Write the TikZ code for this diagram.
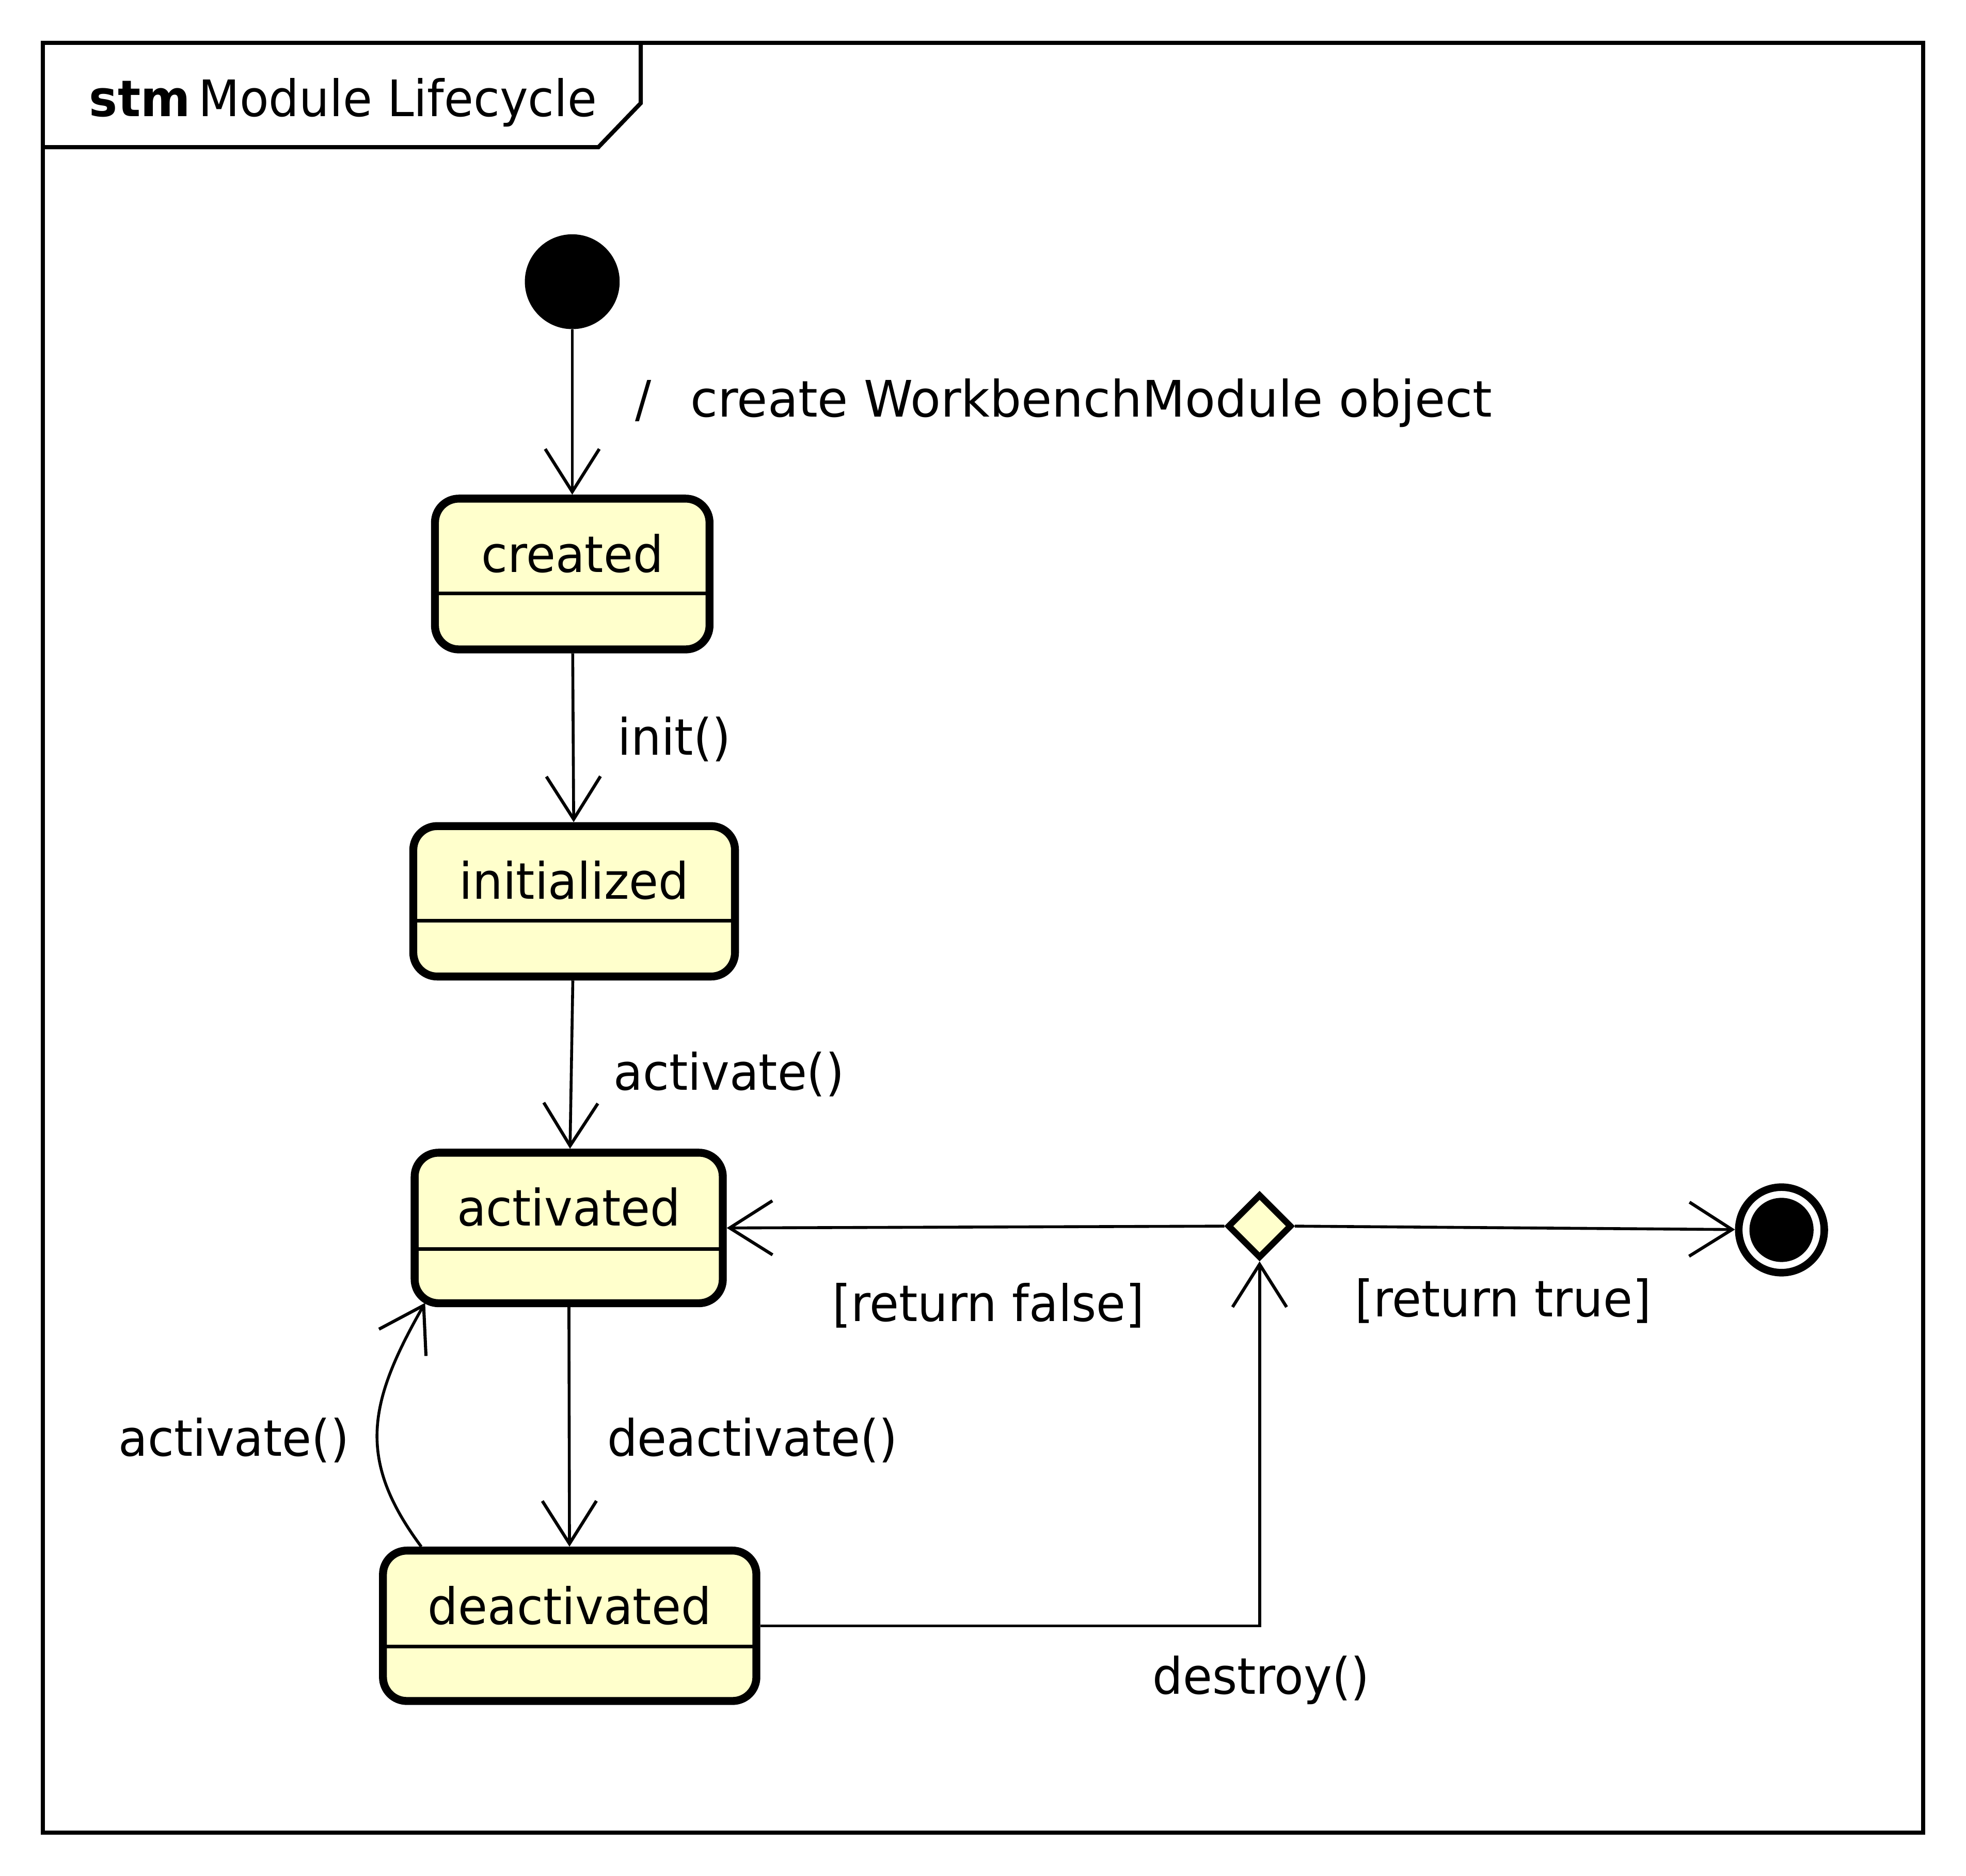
\documentclass[tikz,border=0pt]{standalone}
\usepackage{fontspec}
\setmainfont{DejaVu Sans}[FakeStretch=0.95]
\usetikzlibrary{arrows.meta,shapes.geometric}
\definecolor{stfill}{HTML}{FFFFCC}
\begin{document}
\begin{tikzpicture}[x=1pt,y=-1pt,
  every node/.style={inner sep=0pt},
  lbl/.style={anchor=base west, font=\fontsize{40pt}{48pt}\selectfont},
  stname/.style={anchor=base, font=\fontsize{40pt}{48pt}\selectfont},
  stbox/.style={draw, line width=6.3pt, fill=stfill, rounded corners=19pt, inner sep=0pt},
  conn/.style={line width=2.3pt, -{Straight Barb[length=34pt,width=43pt,line width=2.5pt]}},
  sepline/.style={line width=3pt},
  framel/.style={line width=3.3pt},
]
\useasboundingbox (0,0) rectangle (1563.2,1491.4);

% frame
\draw[framel] (34,34) rectangle (1529.2,1457.3);
\draw[framel] (34,117) -- (475.8,117) -- (509.5,82) -- (509.5,34);
\node[lbl] (stm) at (70.8,92.4) {\bfseries stm};
\node[lbl] (title) at (157.6,92.4) {Module Lifecycle};

% initial
\node[circle, fill=black, minimum size=75.4pt] (init) at (455,224) {};

% states
\node[stbox, minimum width=218.3pt, minimum height=119.9pt] (created) at (455,456.45) {};
\draw[sepline] (345.8,472) -- (564.1,472);
\node[stname] (createdT) at (455,455) {created};

\node[stbox, minimum width=255.8pt, minimum height=119.6pt] (initialized) at (456.5,716.7) {};
\draw[sepline] (328.6,732) -- (584.4,732);
\node[stname] (initializedT) at (456.5,715) {initialized};

\node[stbox, minimum width=245pt, minimum height=119.7pt] (activated) at (452.2,976.45) {};
\draw[sepline] (329.7,993.3) -- (574.7,993.3);
\node[stname] (activatedT) at (452.2,974.8) {activated};

\node[stbox, minimum width=296.9pt, minimum height=119.6pt] (deactivated) at (452.95,1292.8) {};
\draw[sepline] (304.5,1309.3) -- (601.4,1309.3);
\node[stname] (deactivatedT) at (452.95,1291.8) {deactivated};

% decision
\node[diamond, draw, line width=5pt, fill=stfill, minimum width=51pt, minimum height=51pt] (dec) at (1001.5,975) {};

% final
\node[circle, draw, line width=6pt, fill=white, minimum size=68pt] (final) at (1416.5,978) {};
\node[circle, fill=black, minimum size=51pt] (finalin) at (final.center) {};

\coordinate (actcorner) at (338,1036);

% connectors
\draw[conn] (init) -- (created);
\draw[conn] (created) -- (initialized);
\draw[conn] (initialized) -- (activated);
\draw[conn] (activated) -- (deactivated);
\draw[conn] (dec.west) -- (activated.east);
\draw[conn] (dec.east) -- (final);
\draw[conn] (deactivated.east) -| (dec.south);
\draw[conn] ([xshift=33.6pt]deactivated.north west) .. controls (283,1160) and (293,1115) .. (actcorner);

% labels
\node[lbl] (lcreate) at (505,331.3) {/\hspace{31pt}\scalebox{1.04}[1]{create WorkbenchModule object}};
\node[lbl] (linit) at (491,600.5) {init()};
\node[lbl] (lact1) at (487.7,866.8) {activate()};
\node[lbl] (lfalse) at (661.6,1050.8) {[return false]};
\node[lbl] (ltrue) at (1077,1046.8) {[return true]};
\node[lbl] (lact2) at (94,1158) {activate()};
\node[lbl] (ldeact) at (482.6,1158) {deactivate()};
\node[lbl] (ldestroy) at (916.2,1347) {destroy()};
\end{tikzpicture}
\end{document}
